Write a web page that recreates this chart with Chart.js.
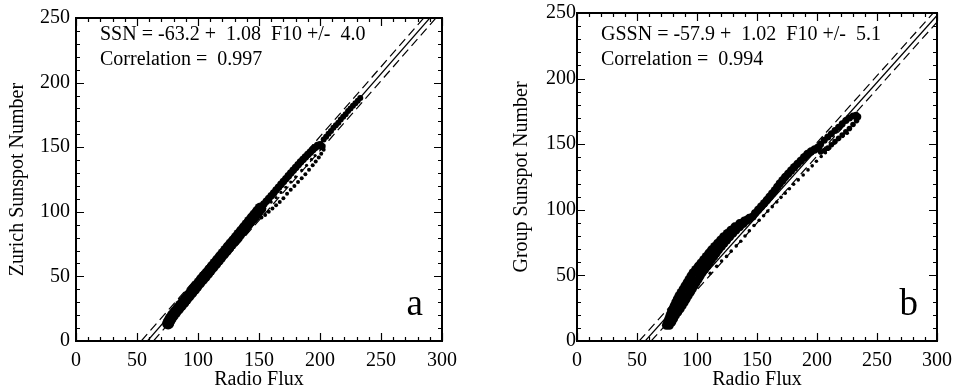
<!DOCTYPE html>
<html>
<head>
<meta charset="utf-8">
<script src="https://cdn.jsdelivr.net/npm/chart.js@4.4.1/dist/chart.umd.min.js"></script>
<style>
  html, body { margin: 0; padding: 0; background: #fff; }
  #wrap { position: relative; width: 960px; height: 392px; }
  canvas { position: absolute; top: 0; }
  #chartA { left: 0; }
  #chartB { left: 480px; }
</style>
</head>
<body>
<div id="wrap">
  <canvas id="chartA" width="480" height="392"></canvas>
  <canvas id="chartB" width="480" height="392"></canvas>
</div>
<script>
const fluxTicks = [0, 50, 100, 150, 200, 250, 300];
const ssnTicks = [0, 50, 100, 150, 200, 250];

// ---- panel a: Zurich sunspot number vs F10.7 radio flux
const zurichBand = [
  [75.5, 13.5], [76.5, 15.5], [77.6, 17.5], [79.4, 20], [81.5, 22.5], [83.7, 25], [85.9, 27.5],
  [88.1, 30], [90.2, 32.5], [92.4, 35], [94.6, 37.5], [96.8, 40], [98.9, 42.5], [101.1, 45],
  [103.3, 47.5], [105.5, 50], [107.6, 52.5], [109.8, 55], [112, 57.5], [114.2, 60],
  [116.3, 62.5], [118.5, 65], [120.7, 67.5], [122.9, 70], [125, 72.5], [127.2, 75],
  [129.4, 77.5], [131.6, 80], [133.7, 82.5], [135.9, 85], [138.1, 87.5], [140.3, 90],
  [142.4, 92.5], [144.6, 95], [146.8, 97.5], [149, 100], [151.1, 102.5]
];
const zurichLoopUpper = [
  [152, 104], [154, 106], [156, 108.2], [158, 110.3], [160, 112.4], [162, 114.6],
  [164, 116.8], [166, 119], [168, 121.2], [170, 123.4], [172, 125.6], [174, 127.8],
  [176, 130], [178, 132.2], [180, 134.3], [182, 136.4], [184, 138.5], [186, 140.5],
  [188, 142.4], [190, 144.3], [192, 146.1], [194, 148], [196, 149.8], [198, 151.2],
  [200, 151.8], [201.5, 150.5]
];
const zurichLoopLower = [
  [203, 148], [201, 145], [199, 142], [196.5, 139], [194, 136], [191, 132.5],
  [188, 129], [185, 126], [182, 123], [179, 120], [176, 117], [173, 114],
  [170, 110.5], [167, 107.5], [164, 105], [161, 102.5], [158, 100], [155, 97.5], [152, 95.5]
];
const zurichLoopInner = [
  [160, 107.5], [164, 111], [168, 115], [172, 119], [176, 123], [180, 127],
  [185, 132], [189, 136], [193, 140.5], [196, 143.5]
];
const zurichTail = [
  [203, 156], [205, 158], [207, 160.5], [209, 162.5], [211, 165], [213, 167],
  [215, 169], [217, 171.5], [219, 173.5], [221, 175.5], [223, 178], [225, 180],
  [227, 182], [229, 184], [231, 186], [233, 188]
];
const zurichFit = [[58.5, 0], [290, 250]];
const zurichFitHigh = [[53.5, 0], [285, 250]];
const zurichFitLow = [[63.5, 0], [295, 250]];

// ---- panel b: group sunspot number vs F10.7 radio flux
const groupBandLeft = [
  [74.5, 12], [75.5, 14.5], [76.5, 17], [77.5, 19.5], [78.5, 22], [79.8, 24.5], [81, 27],
  [82.3, 29.5], [83.6, 32], [85, 34.5], [86.7, 37], [88.4, 39.5], [90, 42], [91.7, 44.5],
  [93.3, 47], [95, 49.5], [96.7, 52], [98.9, 54.5], [101.1, 57], [103.3, 59.5], [105.5, 62],
  [107.7, 64.5], [109.9, 67], [112.1, 69.5], [114.7, 72], [117.2, 74.5], [119.7, 77],
  [122.2, 79.5], [125.2, 82], [128.2, 84.5], [131.5, 87], [135.5, 89.5], [139.5, 91.5],
  [143.5, 93.5]
];
const groupBandRight = [
  [77, 12], [79, 14.5], [80.5, 17], [82, 19.5], [84, 22], [86, 24.5], [87.7, 27],
  [89.4, 29.5], [91, 32], [92.6, 34.5], [94.3, 37], [96, 39.5], [97.6, 42], [99.3, 44.5],
  [101, 47], [102.6, 49.5], [104.3, 52], [106.3, 54.5], [108.2, 57], [110.2, 59.5],
  [112, 62], [114, 64.5], [116, 67], [118, 69.5], [120.3, 72], [122.5, 74.5], [124.8, 77],
  [127.2, 79.5], [129.8, 82], [132.4, 84.5], [135.5, 87], [138.5, 89.5], [141.5, 92]
];
const groupBandUpper = [
  [146.5, 95], [148.5, 97.5], [151, 100], [153.5, 102.5], [156, 105], [158.3, 107.5],
  [160.5, 110], [162.7, 112.5], [165, 115], [167, 117.5], [169, 120], [171.3, 122.5],
  [173.5, 125], [176, 127.5], [178.5, 130], [181, 132.5], [183.7, 135], [186.5, 137.5],
  [189.3, 140], [192, 142.5], [195, 144.5], [198, 146], [201, 147.5]
];
const groupLoopUpper = [
  [203, 150], [206, 153], [209, 155.5], [212, 158], [215, 160.5], [218, 163], [221, 165.5],
  [224, 168], [227, 170], [230, 171.5], [232.5, 172], [234, 171]
];
const groupLoopLower = [
  [233, 168], [230, 165], [227, 162], [224, 159.5], [221, 157], [218, 154.5],
  [215, 152], [212, 149.5], [209, 147], [206, 145], [203, 144]
];
const groupTrail = [
  [111, 51.6], [116.4, 57], [120.5, 61], [124.6, 64.5], [128.5, 68.5], [132.7, 72.5],
  [136.5, 76], [140, 80], [143.6, 84], [147.5, 88], [151.8, 92], [155.5, 95.5],
  [159, 99], [162.7, 102.4], [166.5, 106], [170, 109.5], [173.5, 112.7], [177, 116],
  [180.5, 119.5], [184.4, 122.8], [188.5, 126.5], [192.5, 130.4], [196, 133.5],
  [199.5, 137], [203.5, 140.6], [207, 143.5], [210.5, 147], [214.3, 150.8],
  [218, 153.5], [221.5, 156], [225.2, 158.4]
];
const groupFit = [[56.8, 0], [300, 248.1]];
const groupFitHigh = [[51.8, 0], [300, 253.2]];
const groupFitLow = [[61.8, 0], [300, 243]];

const panelText = {
  a: ["SSN = -63.2 +  1.08  F10 +/-  4.0", "Correlation =  0.997"],
  b: ["GSSN = -57.9 +  1.02  F10 +/-  5.1", "Correlation =  0.994"],
};

const SERIF = "'Liberation Serif', 'DejaVu Serif', serif";
const xy = (arr) => arr.map(([x, y]) => ({ x, y }));

function dots(data, r) {
  return {
    data: xy(data), pointRadius: r, pointHoverRadius: r, borderWidth: 0,
    backgroundColor: "#000", showLine: false, order: 0,
  };
}
function fitLine(data, dash) {
  return {
    data: xy(data), showLine: true, pointRadius: 0, borderColor: "#000",
    borderWidth: 1.2, borderDash: dash, order: 1, fill: false,
  };
}

// box frame with inward ticks on all four sides, plus the fit text and panel letter
const boxPlugin = {
  id: "box",
  afterDraw(chart, args, opts) {
    const { ctx, chartArea: a, scales } = chart;
    const x = scales.x, y = scales.y;
    ctx.save();
    ctx.strokeStyle = "#000";
    ctx.lineWidth = 1.2;
    ctx.beginPath();
    for (let v = 0; v <= 300; v += 10) {
      const px = Math.round(x.getPixelForValue(v)) + 0.5;
      const len = v % 50 === 0 ? 8 : 4;
      ctx.moveTo(px, a.bottom); ctx.lineTo(px, a.bottom - len);
      ctx.moveTo(px, a.top); ctx.lineTo(px, a.top + len);
    }
    for (let v = 0; v <= 250; v += 10) {
      const py = Math.round(y.getPixelForValue(v)) + 0.5;
      const len = v % 50 === 0 ? 8 : 4;
      ctx.moveTo(a.left, py); ctx.lineTo(a.left + len, py);
      ctx.moveTo(a.right, py); ctx.lineTo(a.right - len, py);
    }
    ctx.stroke();
    ctx.lineWidth = 2;
    ctx.strokeRect(a.left, a.top, a.right - a.left, a.bottom - a.top);

    ctx.fillStyle = "#000";
    ctx.textBaseline = "alphabetic";
    ctx.textAlign = "left";
    ctx.font = "20px " + SERIF;
    opts.lines.forEach((t, i) => ctx.fillText(t, a.left + 24, 39.5 + i * 25.5));
    ctx.textAlign = "right";
    ctx.font = "37px " + SERIF;
    ctx.fillText(opts.letter, a.right - 19, 315);
    ctx.restore();
  },
};

function makePanel(id, cfg) {
  const font = { family: SERIF, size: 20 };
  return new Chart(document.getElementById(id), {
    type: "scatter",
    data: { datasets: cfg.datasets },
    options: {
      responsive: false,
      animation: false,
      devicePixelRatio: 1,
      layout: { padding: { left: 4, top: 13, right: cfg.padRight, bottom: 0 } },
      plugins: {
        legend: { display: false },
        tooltip: { enabled: false },
        box: { lines: cfg.lines, letter: cfg.letter },
      },
      scales: {
        x: {
          type: "linear", min: 0, max: 300,
          afterBuildTicks: (s) => { s.ticks = fluxTicks.map((v) => ({ value: v })); },
          afterFit: (s) => { s.height = 51; },
          grid: { display: false, drawTicks: false },
          border: { display: false },
          ticks: { color: "#000", font, padding: 8, maxRotation: 0 },
          title: { display: true, text: "Radio Flux", color: "#000", font, padding: { top: 0, bottom: 0 } },
        },
        y: {
          type: "linear", min: 0, max: 250,
          afterBuildTicks: (s) => { s.ticks = ssnTicks.map((v) => ({ value: v })); },
          afterFit: (s) => { s.width = cfg.yWidth; },
          grid: { display: false, drawTicks: false },
          border: { display: false },
          ticks: { color: "#000", font, padding: cfg.yPad },
          title: { display: true, text: cfg.yTitle, color: "#000", font, padding: { top: cfg.yTitlePad, bottom: 0 } },
        },
      },
    },
    plugins: [boxPlugin],
  });
}

makePanel("chartA", {
  yTitle: "Zurich Sunspot Number",
  lines: panelText.a, letter: "a",
  padRight: 38, yWidth: 72, yPad: 6, yTitlePad: 2,
  datasets: [
    dots(zurichBand, 6),
    dots(zurichLoopUpper, 3.8),
    dots(zurichLoopLower, 2),
    dots(zurichLoopInner, 1.6),
    dots(zurichTail, 3),
    fitLine(zurichFit, []),
    fitLine(zurichFitHigh, [9, 5]),
    fitLine(zurichFitLow, [9, 5]),
  ],
});

makePanel("chartB", {
  yTitle: "Group Sunspot Number",
  lines: panelText.b, letter: "b",
  padRight: 15, yWidth: 93, yPad: 1, yTitlePad: 26,
  datasets: [
    dots(groupBandLeft, 4.5),
    dots(groupBandRight, 4.5),
    dots(groupBandUpper, 4.2),
    dots(groupLoopUpper, 3.5),
    dots(groupLoopLower, 2.8),
    dots(groupTrail, 1.8),
    fitLine(groupFit, []),
    fitLine(groupFitHigh, [9, 5]),
    fitLine(groupFitLow, [9, 5]),
  ],
});
</script>
</body>
</html>
